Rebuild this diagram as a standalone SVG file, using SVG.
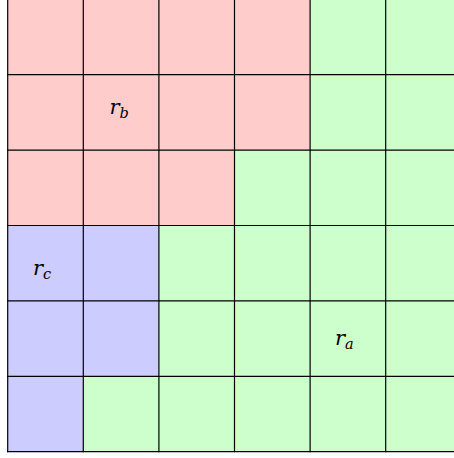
<svg xmlns="http://www.w3.org/2000/svg" width="454" height="458" viewBox="0 0 454 458">
<style>
.p{fill:#ffcccc}.g{fill:#ccffcc}.b{fill:#ccccff}
.grid line{stroke:#000;stroke-width:1.2}
.lbl{font-family:"DejaVu Serif","Liberation Serif",serif;font-style:italic;font-size:21px;fill:#000}
.sub{font-size:14.5px}
</style>
<rect width="454" height="458" fill="#fff"/>
<g id="cells">
<rect class="p" x="7.7" y="-0.7" width="302.4" height="150.8"/>
<rect class="p" x="7.7" y="150.1" width="226.8" height="75.4"/>
<rect class="g" x="310.1" y="-0.7" width="151.2" height="226.2"/>
<rect class="g" x="234.5" y="150.1" width="75.6" height="75.4"/>
<rect class="g" x="158.9" y="225.5" width="302.4" height="226.2"/>
<rect class="g" x="83.3" y="376.3" width="75.6" height="75.4"/>
<rect class="b" x="7.7" y="225.5" width="151.2" height="150.8"/>
<rect class="b" x="7.7" y="376.3" width="75.6" height="75.4"/>
</g>
<g id="connectors" class="grid">
<line x1="7.7" y1="-1" x2="7.7" y2="452.3"/>
<line x1="83.3" y1="-1" x2="83.3" y2="452.3"/>
<line x1="158.9" y1="-1" x2="158.9" y2="452.3"/>
<line x1="234.5" y1="-1" x2="234.5" y2="452.3"/>
<line x1="310.1" y1="-1" x2="310.1" y2="452.3"/>
<line x1="385.7" y1="-1" x2="385.7" y2="452.3"/>
<line x1="7.1" y1="74.7" x2="454" y2="74.7"/>
<line x1="7.1" y1="150.1" x2="454" y2="150.1"/>
<line x1="7.1" y1="225.5" x2="454" y2="225.5"/>
<line x1="7.1" y1="300.9" x2="454" y2="300.9"/>
<line x1="7.1" y1="376.3" x2="454" y2="376.3"/>
<line x1="7.1" y1="451.7" x2="454" y2="451.7"/>
</g>
<g id="rb"><text class="lbl" x="109.5" y="114">r<tspan class="sub" dy="4">b</tspan></text></g>
<g id="rc"><text class="lbl" x="33" y="275">r<tspan class="sub" dy="4">c</tspan></text></g>
<g id="ra"><text class="lbl" x="335" y="345">r<tspan class="sub" dy="4">a</tspan></text></g>
</svg>
